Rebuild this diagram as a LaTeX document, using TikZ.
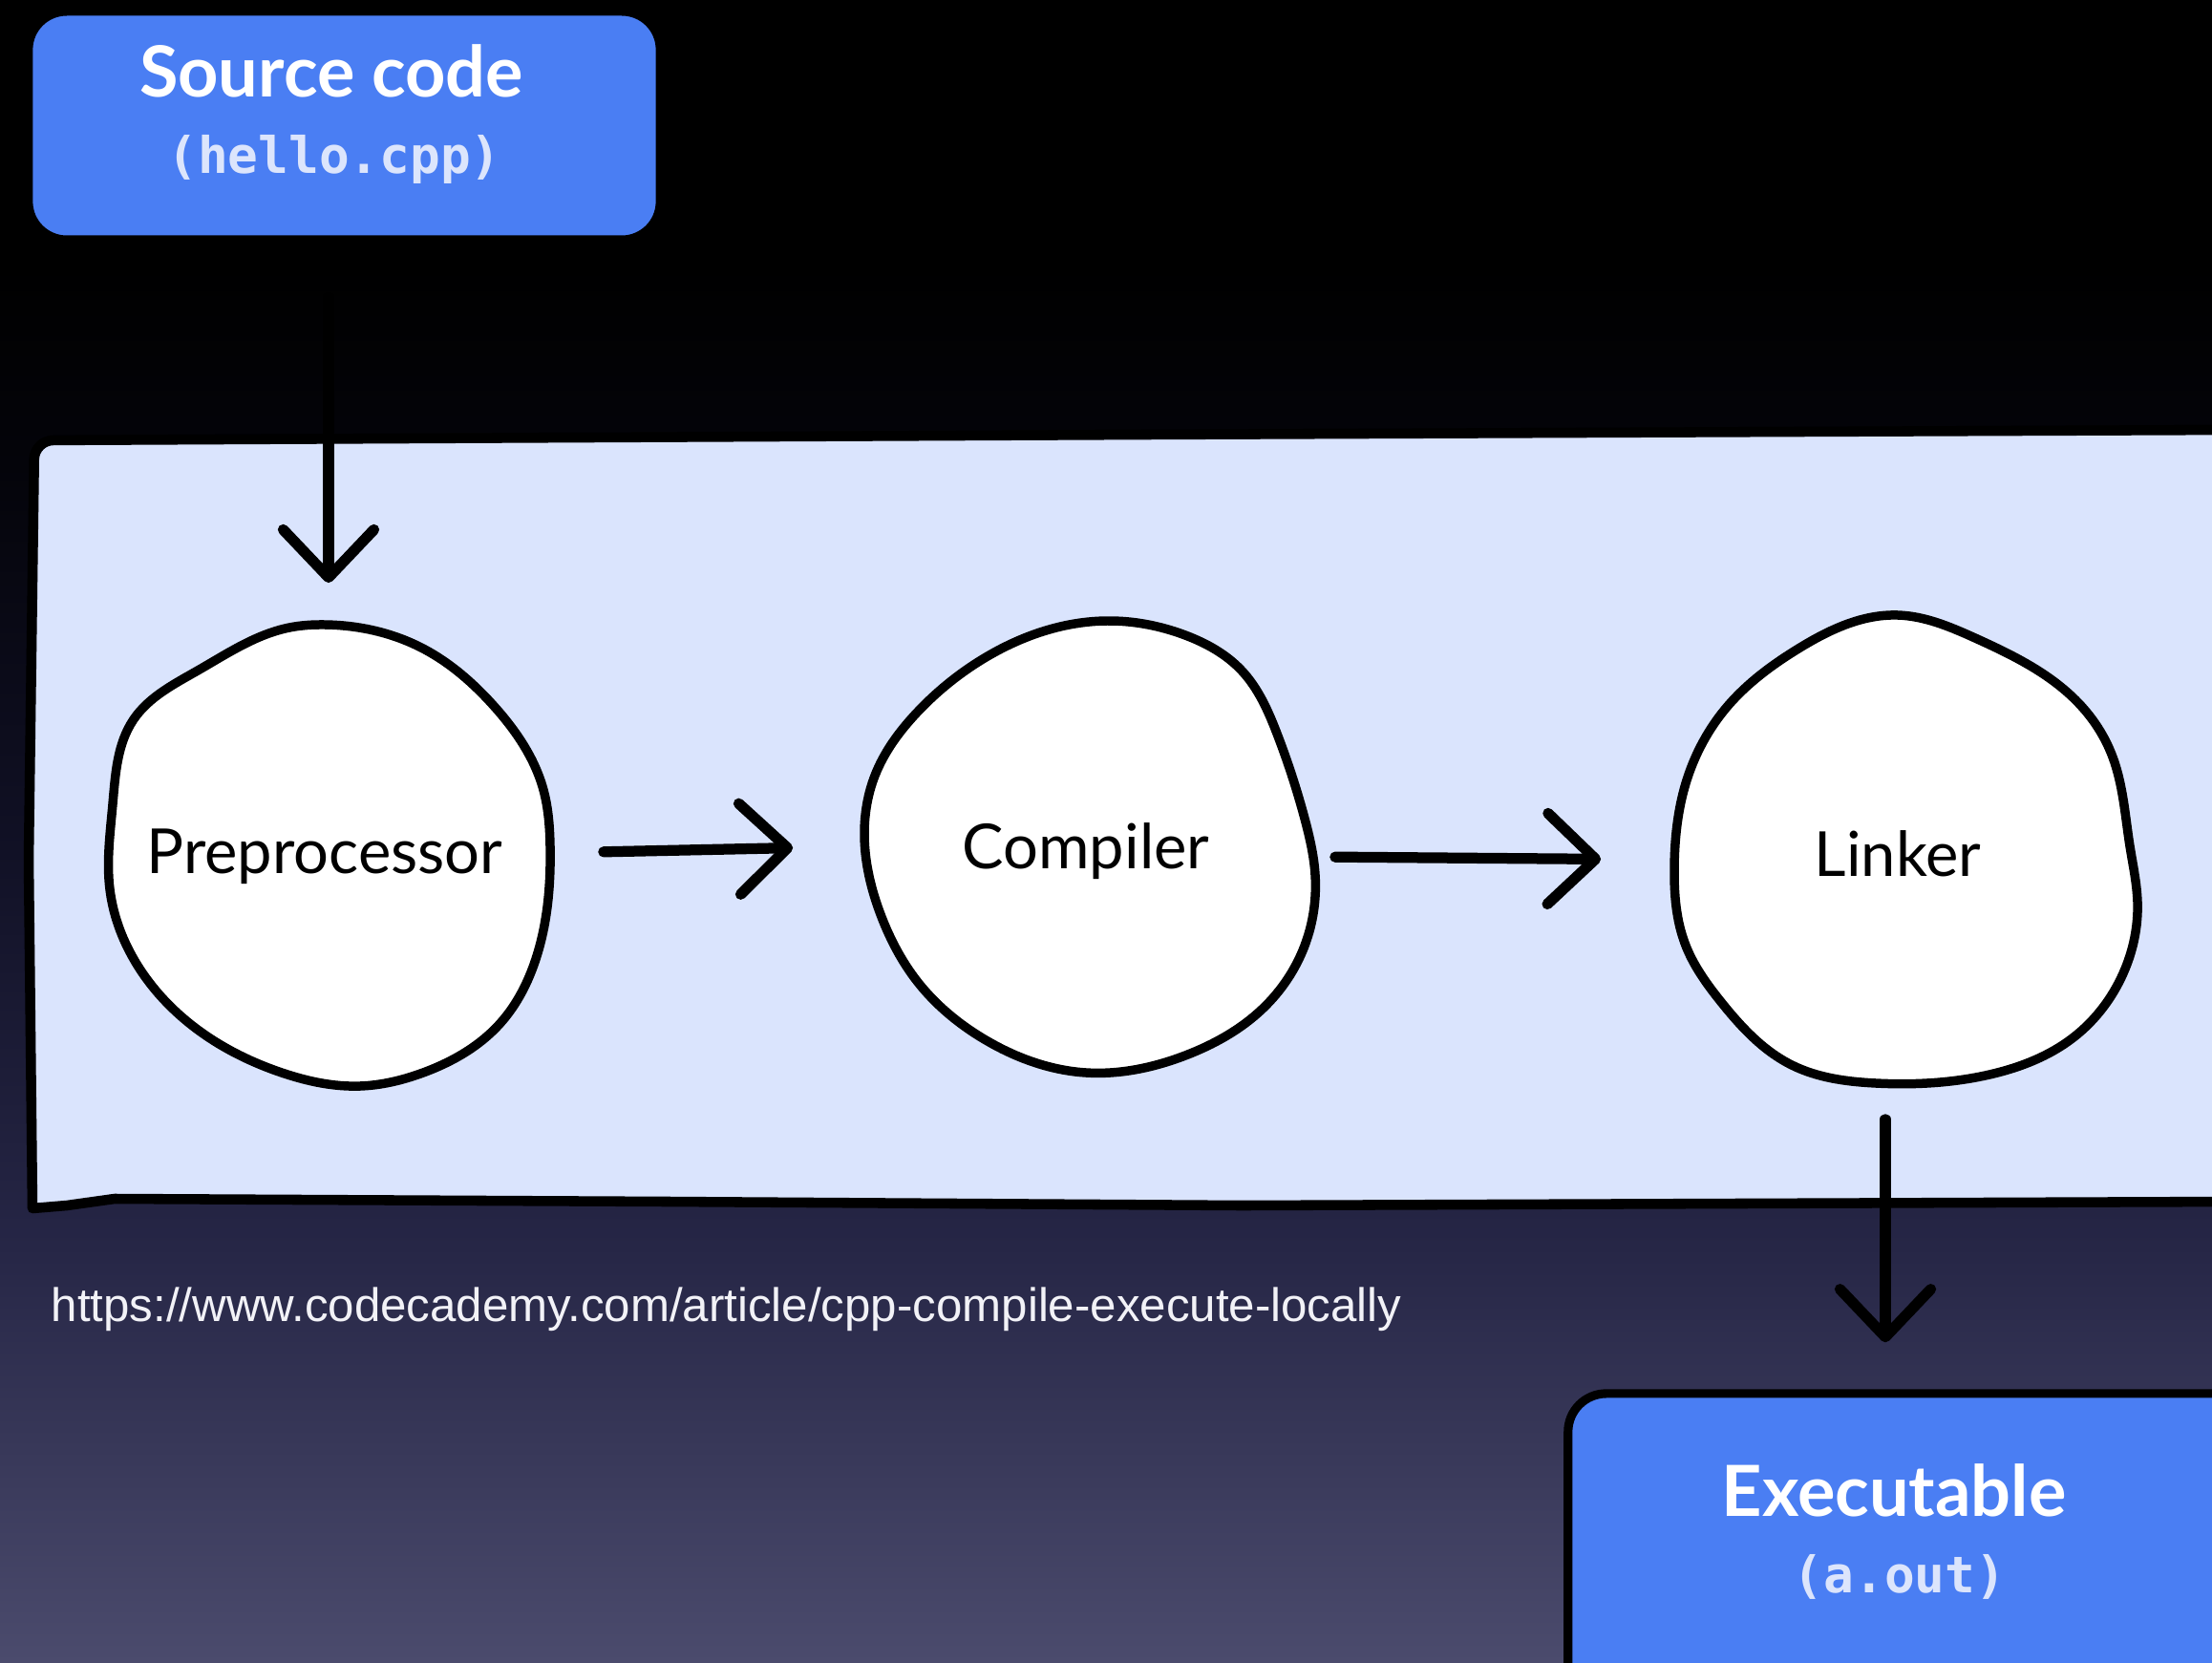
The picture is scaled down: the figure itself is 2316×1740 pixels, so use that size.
\documentclass[tikz,border=0pt]{standalone}
\usepackage{fontspec}
\setmainfont{Lato}
\newfontfamily\monofont{DejaVu Sans Mono}
\newfontfamily\urlfont{Liberation Sans}
\usetikzlibrary{arrows.meta,shapes.geometric,calc,hobby}

\definecolor{bgA}{HTML}{4B4B6D}
\definecolor{bgB}{HTML}{262646}
\definecolor{bgC}{HTML}{101024}
\definecolor{bgD}{HTML}{04040A}
\definecolor{bandfill}{HTML}{DAE4FD}
\definecolor{boxblue}{HTML}{4A7EF3}
\definecolor{subtext}{HTML}{DCE5FC}
\definecolor{urltext}{HTML}{F2F2F7}

% the visible part of a TikZ shading runs from 25bp (bottom) to 75bp (top)
\pgfdeclareverticalshading{backdrop}{100bp}{%
  color(0bp)=(bgA); color(25bp)=(bgA); color(37.5bp)=(bgB);
  color(50bp)=(bgC); color(61bp)=(bgD); color(67bp)=(black);
  color(100bp)=(black)}

\tikzset{
  blobline/.style={draw=black, line width=2.7pt, fill=white,
    line join=round, use Hobby shortcut, closed=true},
  stage/.style={ellipse, inner sep=0pt},
  stagename/.style={font=\fontsize{18.5}{22}\selectfont, text=black},
  bluebox/.style={rectangle, draw=black, line width=2.6pt, fill=boxblue,
    rounded corners=4mm, inner sep=0pt},
  title/.style={font=\bfseries\fontsize{21}{25}\selectfont, text=white},
  filename/.style={font=\monofont\bfseries\fontsize{15}{18}\selectfont,
    text=subtext},
  flow/.style={draw=black, line width=3.2pt, line cap=round,
    -{Straight Barb[length=5mm,width=9.5mm,line cap=round,line join=round]}},
}

\begin{document}
\begin{tikzpicture}[x=0.01cm, y=-0.01cm]
  \useasboundingbox (0,0) rectangle (2316,1740);
  \clip (0,0) rectangle (2316,1740);

  % backdrop
  \shade[shading=backdrop] (0,0) rectangle (2316,1740);

  % pale process band
  \draw[fill=bandfill, line width=3pt, line join=round]
    (36,461) -- (1200,455) -- (2340,450) -- (2340,1258)
    -- (1300,1262) -- (700,1258) -- (120,1255) -- (70,1262) -- (34,1265)
    [rounded corners=2mm] -- (30,900) -- cycle;

  % source and output boxes
  \node[bluebox, minimum width=6.61cm, minimum height=2.39cm]
    (src) at (360.5,131.5) {};
  \node[title]    (srcT) at (347,74)  {Source code};
  \node[filename] (srcF) at (350,167) {(hello.cpp)};

  \node[bluebox, minimum width=7.6cm, minimum height=3.6cm]
    (exe) at (2022,1639) {};
  \node[title]    (exeT) at (1983,1560) {Executable};
  \node[filename] (exeF) at (1989,1651) {(a.out)};

  % stage outlines
  \draw[blobline] (303,657) .. (340,654) .. (443,679) .. (517,739)
    .. (569,827) .. (576,886) .. (561,1004) .. (524,1071) .. (443,1123)
    .. (377,1137) .. (295,1123) .. (207,1078) .. (140,1004) .. (115,931)
    .. (118,842) .. (140,753) .. (207,702);
  \draw[blobline] (1159,650) .. (1241,665) .. (1300,702) .. (1337,768)
    .. (1366,857) .. (1377,916) .. (1366,990) .. (1322,1056) .. (1241,1105)
    .. (1137,1123) .. (1034,1090) .. (960,1027) .. (923,960) .. (905,871)
    .. (916,812) .. (960,746) .. (1034,687);
  \draw[blobline] (1987,644) .. (2068,668) .. (2179,739) .. (2211,790)
    .. (2230,886) .. (2238,945) .. (2223,1019) .. (2171,1086) .. (2083,1125)
    .. (1964,1134) .. (1876,1115) .. (1802,1049) .. (1765,990) .. (1753,908)
    .. (1765,820) .. (1809,739) .. (1883,679);

  % stages
  \node[stage, minimum width=4.62cm, minimum height=4.82cm]
    (pre) at (344,896) {};
  \node[stage, minimum width=4.70cm, minimum height=4.73cm]
    (cmp) at (1140,886) {};
  \node[stage, minimum width=4.82cm, minimum height=4.90cm]
    (lnk) at (1994,889) {};
  \node[stagename] (preT) at (340,897) {Preprocessor};
  \node[stagename] (cmpT) at (1137,891) {Compiler};
  \node[stagename] (lnkT) at (1987,894) {Linker};

  % connectors
  \draw[flow, shorten <=0.56cm, shorten >=0.44cm]
    (src.south -| pre.north) -- (pre.north);
  \draw[flow, shorten <=0.56cm, shorten >=0.74cm]
    ([yshift=0.03cm]pre.east) -- (cmp.west);
  \draw[flow, shorten <=0.22cm, shorten >=0.76cm]
    ([yshift=-0.11cm]cmp.east) -- ([yshift=-0.11cm]lnk.west);
  \draw[flow, shorten <=0.37cm, shorten >=0.49cm]
    ([xshift=-0.2cm]lnk.south) -- ([xshift=-0.2cm]lnk.south |- exe.north);

  % reference link
  \node[anchor=west, inner sep=0pt, text=urltext,
    font=\urlfont\fontsize{14}{17}\selectfont]
    (url) at (53,1371) {https://www.codecademy.com/article/cpp-compile-execute-locally};
\end{tikzpicture}
\end{document}
